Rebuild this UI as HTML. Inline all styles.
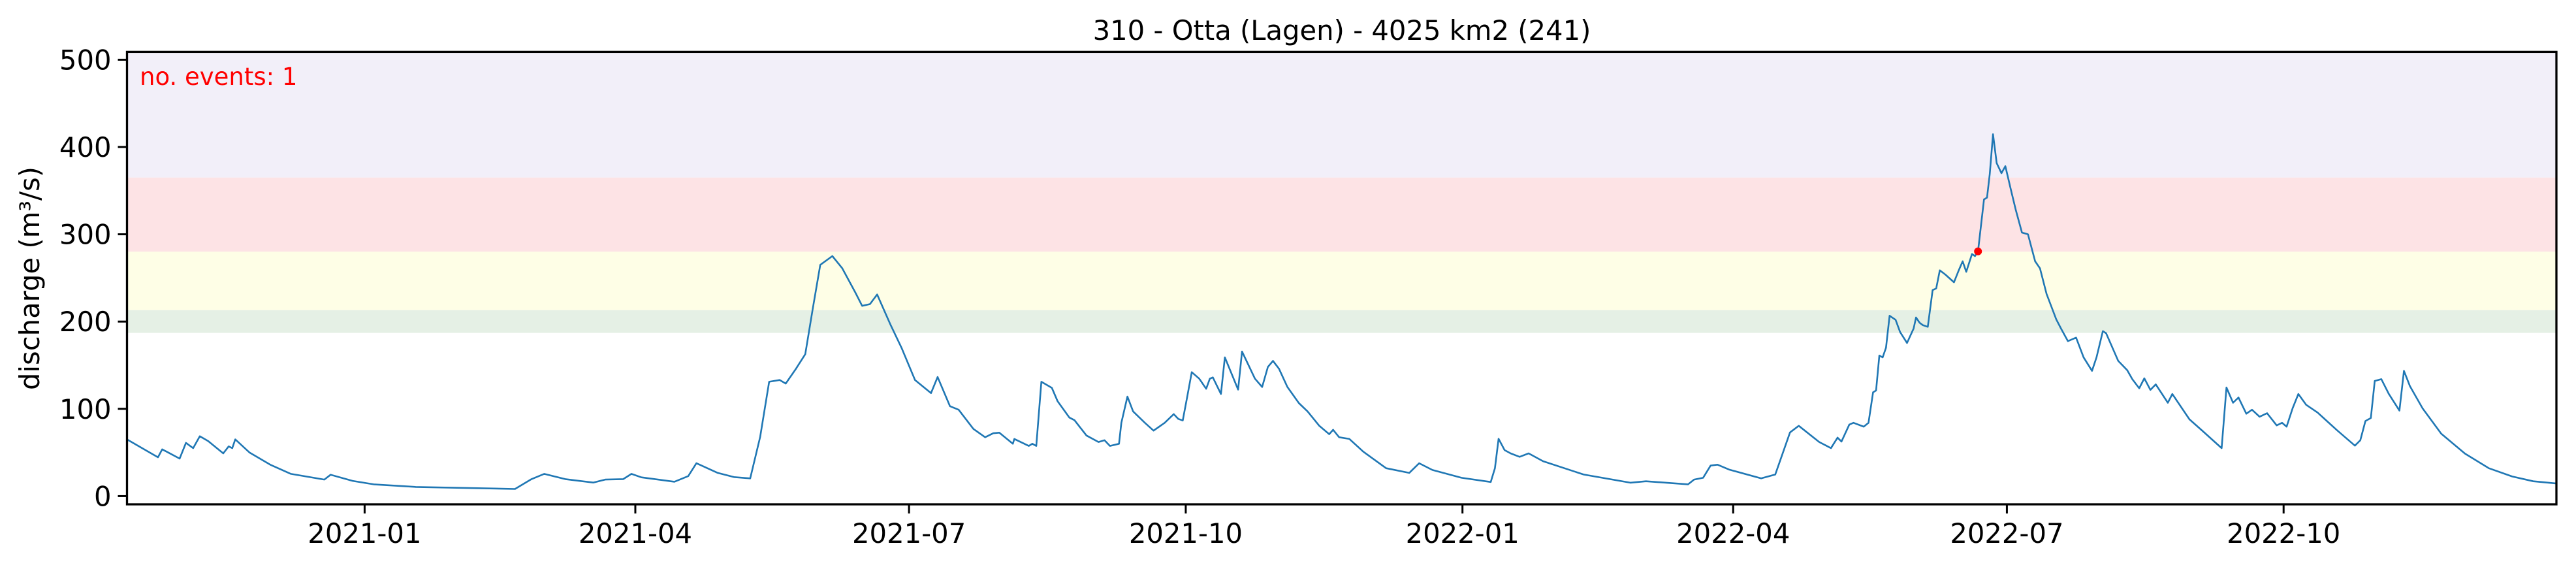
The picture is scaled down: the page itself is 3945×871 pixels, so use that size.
<!DOCTYPE html>
<html><head><meta charset="utf-8"><style>
html,body{margin:0;padding:0;background:#fff;}
svg{display:block;font-family:"DejaVu Sans","Liberation Sans",sans-serif;}
</style></head><body>
<svg id="chart" width="3945" height="871" viewBox="0 0 3945 871" xmlns="http://www.w3.org/2000/svg">
<text x="2055" y="61" font-size="41.7" text-anchor="middle">310 - Otta (Lagen) - 4025 km2 (241)</text>
<g id="bands"></g>
<g id="series"></g>
<text x="214" y="130" font-size="37" fill="#ff0000">no. events: 1</text>
<rect x="194.5" y="79.4" width="3720.5" height="692.6" fill="none" stroke="#000" stroke-width="3.3"/>
<g id="yaxis"></g>
<g id="xaxis"></g>
<text transform="translate(60,426) rotate(-90)" font-size="41.7" text-anchor="middle">discharge (m³/s)</text>
</svg>
<script>
const dayOffsets=[0,10.3,11.7,17.5,19.6,22,24.2,27,32,33.8,35,36,40.7,47.6,54.5,65.6,67.7,75,82,96,129,134.5,138.7,145.7,155,159,165,167.7,171,182,186.6,189.3,196.4,201.8,207.2,210.5,213.5,217,219,222.4,225.5,228,230.5,234.5,237.8,242.2,244.4,247,249.4,253.9,257.5,262,267.3,269.5,273.6,276.5,281.4,285.3,288,290,294.5,295,299.8,301,302.3,304,307.5,309.4,313.3,315,319,323,325,326.8,329.8,330.6,332.6,334.5,338.4,341.3,345,348,349.5,351,352.5,354,356.5,358.8,360,361,363.7,365,369.4,370.7,375,377.4,379.3,381,383,385.8,389.6,392.5,396.4,399.7,401,403,406.4,411,418.6,426.3,429.6,434,443.7,453.4,454.8,456,458,460,463,466,470.8,484.3,499.8,505,519,521,524,526.5,528.8,532.6,543.3,548,552.9,555.8,562.6,566.5,568.7,570,572.6,574,577.4,579,580.5,581.5,582.6,583.7,584.8,586,588,589.5,591.8,594,594.8,596,597,598.7,600.3,601.5,602.7,604.5,607.4,609,610.3,611.5,613.4,614.4,615.4,617.4,618.4,619.3,620.4,621.6,623.2,624.5,626.4,628,630,632,634.4,636,638.2,641.4,643,645.3,648,650.5,653.3,654.8,656.9,658,662,665,666.7,669,670.7,672.7,674.5,678.5,680,685.7,690.4,696.4,698,700.2,702,704.6,706.5,709,711.5,714.7,716.5,718,720,721.9,724.5,728.3,734.7,740.7,742.5,744.2,746,747.3,749.5,752,755.5,757,759,763.2,769.4,777.3,785.2,793,800,807.7];
const discharge=[65,44.5,53.6,43,61,55,68.6,63,49,57,55,65,50,36,25.5,19,24.5,17.5,13.5,10.5,8.2,19.5,25.5,19.5,15.5,19,19.5,25.5,21.5,16.5,22.9,37.7,26.6,21.8,20.3,67.7,131,133,129,145.8,162.6,214.7,265,275,261,233,218,220,231,196,170,133,118,136.5,103,99,77,67.5,72,72.7,60,65.5,57.5,60,57.5,131,124,108.6,90,87,69.4,62,64,57.5,60,84,114,97,84,75,84,94,88.5,86.6,114,142,134.5,123,134.5,136,117,159,122,165.7,134.5,125,148,155,146,125,106.6,97,80.6,71,76,67.5,65.5,51,32,26.6,37.7,30,21,16.2,32,65.7,52.7,49,45,49,40,24.7,15.4,17,13.5,19,21,35,36,30.5,20.3,24.7,73,80.6,62,55,67,62.5,82,84,79.6,84,119,121,161,159,170,206.7,202,188,175.5,192,204.7,198.6,196,194,236,238,258.7,254,245,258.7,269,257,277.4,275,280.4,340,342,369,414.7,381.5,370,378,350,327.5,302,300,269,261,231.7,202.6,192,177.6,181.6,159,143.5,159,189,186.6,155,144.3,134,123.5,135,121.7,128,107,117,88,73.6,55,124.4,107,113,94.4,99,91,95,81,84,79.6,100.6,117,104.6,95.7,75.7,57.8,64,86,89.5,132,134,117,98,143.5,126,100.6,71.5,48.7,32,22.5,17,14.5];
const bandLows=[365,280,213,187];
const bandHighs=[520,365,280,213];
const bandColors=['#f2eff9','#fde3e5','#fefee6','#e5f0e5'];
const yTicks=[0,100,200,300,400,500];
const xTickDays=[79,169,260,352,444,534,625,717];
const xTickLabels=['2021-01','2021-04','2021-07','2021-10','2022-01','2022-04','2022-07','2022-10'];
const eventDays=[615.4];
const eventValues=[280.4];

const NS='http://www.w3.org/2000/svg';
const L=194.5,R=3915,T=79.4,B=772;
const yMin=-9.4,yMax=509;
const dMin=0,dMax=807.7;
function xs(d){return L+(d-dMin)/(dMax-dMin)*(R-L);}
function ys(v){return B-(v-yMin)/(yMax-yMin)*(B-T);}
function mk(tag,attrs,parent){const e=document.createElementNS(NS,tag);for(const k in attrs)e.setAttribute(k,attrs[k]);parent.appendChild(e);return e;}

const bands=document.getElementById('bands');
for(let i=0;i<bandLows.length;i++){
  const top=Math.max(T,ys(bandHighs[i])),bot=ys(bandLows[i]);
  const r=mk('rect',{x:L,y:top,width:R-L,height:bot-top,fill:bandColors[i]},bands);
  
  
}
const series=document.getElementById('series');
let dstr='';
for(let i=0;i<dayOffsets.length;i++){dstr+=(i?'L':'M')+xs(dayOffsets[i]).toFixed(1)+' '+ys(discharge[i]).toFixed(1);}
const line=mk('path',{d:dstr,fill:'none',stroke:'#1f77b4','stroke-width':2.6,'stroke-linejoin':'round'},series);


for(let i=0;i<eventDays.length;i++){
  const c=mk('circle',{cx:xs(eventDays[i]),cy:ys(eventValues[i]),r:6,fill:'#ff0000'},series);
  
  
}
const yaxis=document.getElementById('yaxis');
yTicks.forEach(v=>{
  const y=ys(v);
  const t=mk('line',{x1:L-14,x2:L,y1:y,y2:y,stroke:'#000','stroke-width':3},yaxis);
  
  
  const lb=mk('text',{x:L-24,y:y+15,'font-size':41.7,'text-anchor':'end'},yaxis);
  lb.textContent=v;
  
  
});
const xaxis=document.getElementById('xaxis');
xTickDays.forEach((d,i)=>{
  const x=xs(d);
  const t=mk('line',{x1:x,x2:x,y1:B,y2:B+14,stroke:'#000','stroke-width':3},xaxis);
  
  
  const lb=mk('text',{x:x,y:831,'font-size':41.7,'text-anchor':'middle'},xaxis);
  lb.textContent=xTickLabels[i];
  
  
});
</script>
</body></html>
